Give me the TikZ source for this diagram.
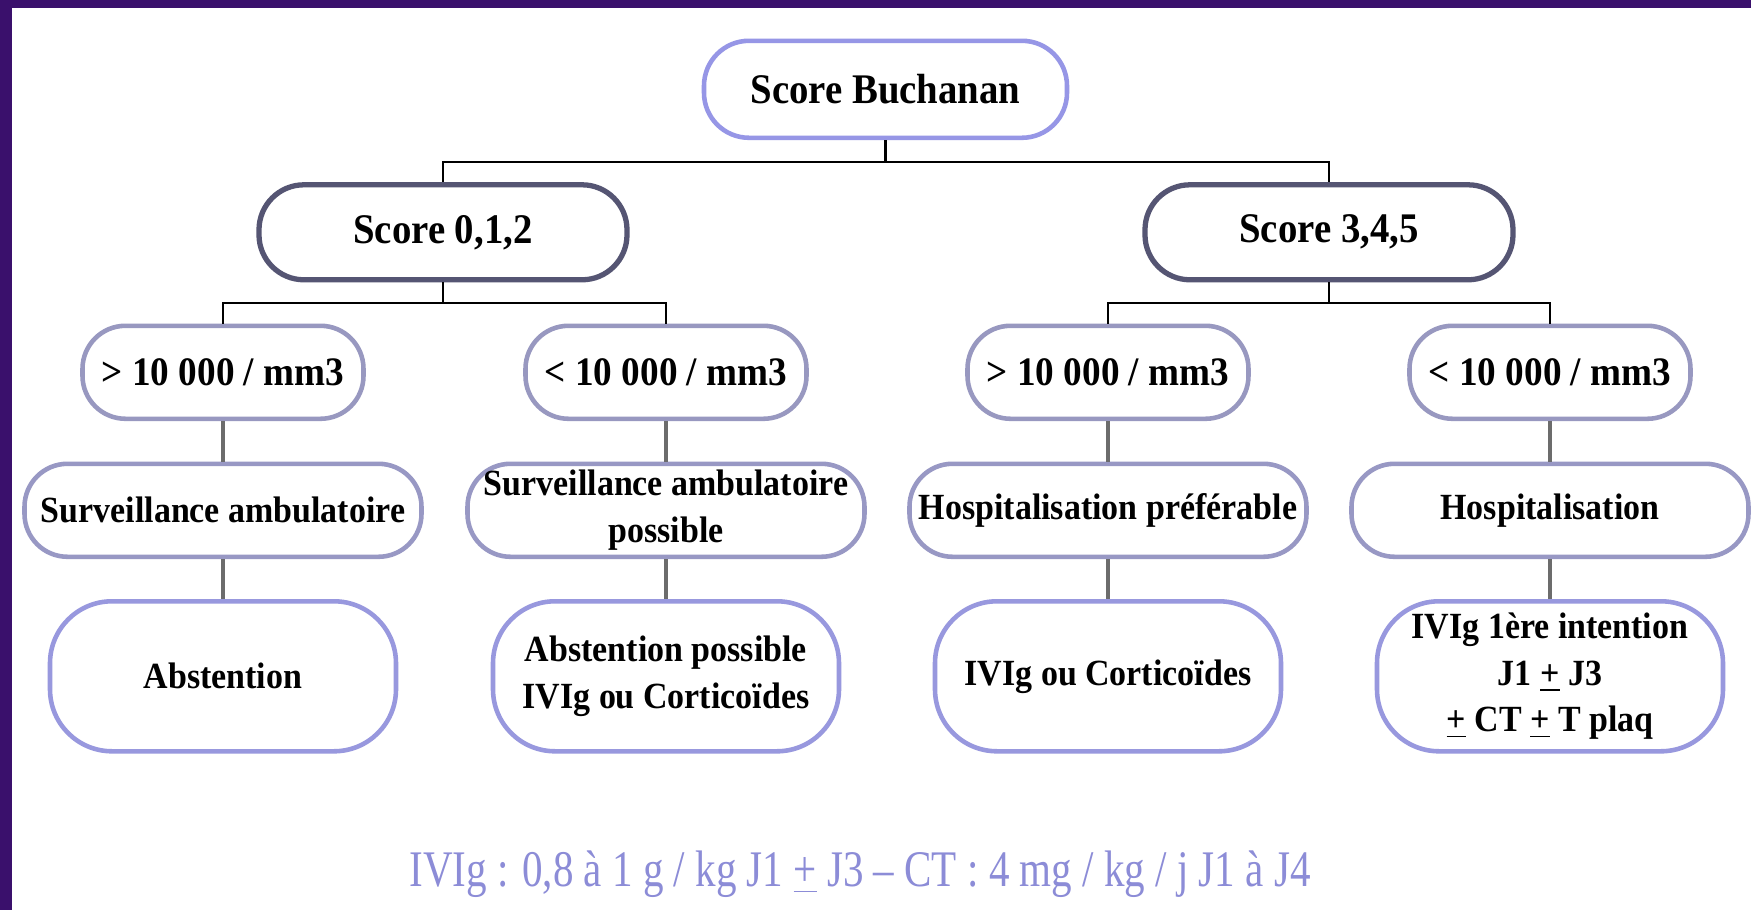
\documentclass[tikz,border=0pt]{standalone}
\usepackage{fontspec}
\setmainfont{Liberation Serif}[FakeStretch=0.92]
\newfontfamily\footfont{Liberation Serif}[FakeStretch=0.8]
\usetikzlibrary{positioning}
\definecolor{bordure}{RGB}{58,16,108}
\definecolor{buchline}{RGB}{150,150,230}
\definecolor{scoreline}{RGB}{85,85,115}
\definecolor{seuilline}{RGB}{152,152,192}
\definecolor{priseline}{RGB}{152,152,196}
\definecolor{traitline}{RGB}{152,152,222}
\definecolor{footcol}{RGB}{140,140,215}
\newcommand{\plusmoins}{\underline{+}}
\tikzstyle{buchanan} = [rectangle, rounded corners=0.45cm, minimum width=3.63cm, minimum height=0.97cm, align=center, draw=buchline, line width=1.3pt, font=\bfseries\fontsize{12}{14}\selectfont]
\tikzstyle{score} = [rectangle, rounded corners=0.45cm, minimum width=3.68cm, minimum height=0.95cm, align=center, draw=scoreline, line width=1.5pt, font=\bfseries\fontsize{12}{14}\selectfont]
\tikzstyle{seuil} = [rectangle, rounded corners=0.43cm, minimum width=2.81cm, minimum height=0.93cm, align=center, draw=seuilline, line width=1.3pt, font=\bfseries\fontsize{11.5}{13.5}\selectfont]
\tikzstyle{prise} = [rectangle, rounded corners=0.43cm, minimum width=3.97cm, minimum height=0.93cm, align=center, inner sep=1pt, draw=priseline, line width=1.3pt, font=\bfseries\fontsize{10.5}{13.3}\selectfont]
\tikzstyle{traitement} = [rectangle, rounded corners=0.62cm, minimum width=3.46cm, minimum height=1.50cm, align=center, inner sep=1pt, draw=traitline, line width=1.3pt, font=\bfseries\fontsize{10.5}{13.2}\selectfont]
\tikzstyle{branche} = [black, line width=0.6pt]
\tikzstyle{lien} = [gray!85!black, line width=1pt]

\begin{document}
\begin{tikzpicture}[node distance = 1.4cm]
	\fill[bordure] (0,0) rectangle (17.51,-9.10);
	\fill[white] (0.12,-0.08) rectangle (17.51,-9.10);

	\node (buch) [buchanan] at (8.855,-0.893) {Score Buchanan};
	\node (s012) [score, below of = buch, xshift = -4.425cm, yshift = -0.03cm] {Score 0,1,2};
	\node (s345) [score, right of = s012, xshift = 7.46cm] {Score 3,4,5};

	\node (sup1) [seuil, below of = s012, xshift = -2.2cm] {> 10 000 / mm3};
	\node (inf1) [seuil, right of = sup1, xshift = 3.03cm] {< 10 000 / mm3};
	\node (sup2) [seuil, below of = s345, xshift = -2.21cm] {> 10 000 / mm3};
	\node (inf2) [seuil, right of = sup2, xshift = 3.02cm] {< 10 000 / mm3};

	\node (surv1) [prise, below of = sup1, yshift = 0.02cm] {Surveillance ambulatoire};
	\node (surv2) [prise, below of = inf1, yshift = 0.02cm] {Surveillance ambulatoire\\possible};
	\node (hosp1) [prise, below of = sup2, yshift = 0.02cm] {Hospitalisation préférable};
	\node (hosp2) [prise, below of = inf2, yshift = 0.02cm] {Hospitalisation};

	\node (abst1) [traitement, below of = surv1, yshift = -0.26cm] {Abstention};
	\node (abst2) [traitement, below of = surv2, yshift = -0.26cm] {Abstention possible\\IVIg ou Corticoïdes};
	\node (ivig1) [traitement, below of = hosp1, yshift = -0.26cm] {IVIg ou Corticoïdes};
	\node (ivig2) [traitement, below of = hosp2, yshift = -0.26cm] {IVIg 1ère intention\\J1 \plusmoins\ J3\\\plusmoins\ CT \plusmoins\ T plaq};

	\node (dose) [text=footcol, font=\footfont\fontsize{14.6}{16}\selectfont] at (8.60,-8.74) {IVIg : 0,8 à 1 g / kg J1 \plusmoins\ J3 – CT : 4 mg / kg / j J1 à J4};

	\draw [branche] (buch.south) -- ++(0,-0.22) -| (s012.north);
	\draw [branche] (buch.south) -- ++(0,-0.22) -| (s345.north);
	\draw [branche] (s012.south) -- ++(0,-0.21) -| (sup1.north);
	\draw [branche] (s012.south) -- ++(0,-0.21) -| (inf1.north);
	\draw [branche] (s345.south) -- ++(0,-0.21) -| (sup2.north);
	\draw [branche] (s345.south) -- ++(0,-0.21) -| (inf2.north);
	\draw [lien] (sup1) -- (surv1);
	\draw [lien] (inf1) -- (surv2);
	\draw [lien] (sup2) -- (hosp1);
	\draw [lien] (inf2) -- (hosp2);
	\draw [lien] (surv1) -- (abst1);
	\draw [lien] (surv2) -- (abst2);
	\draw [lien] (hosp1) -- (ivig1);
	\draw [lien] (hosp2) -- (ivig2);
\end{tikzpicture}
\end{document}
